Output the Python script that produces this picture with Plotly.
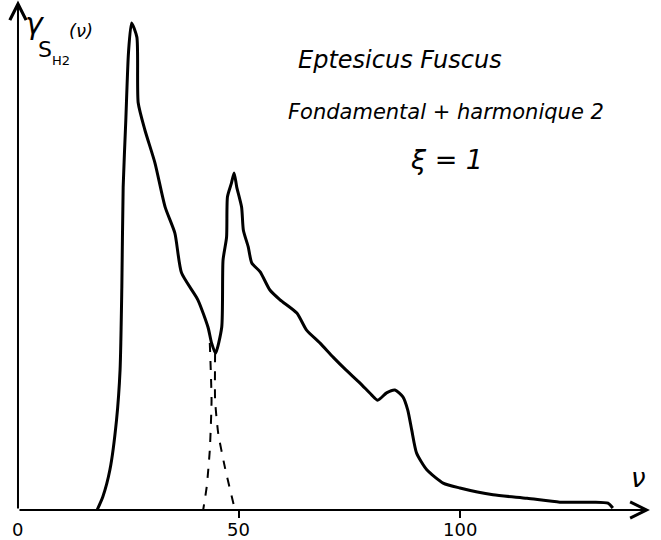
import plotly.graph_objects as go

# Total spectrum (fundamental + harmonic 2), frequency nu vs amplitude (arbitrary units)
nu_total = [17.9, 19.2, 20.8, 22.3, 23.1, 23.5, 23.8, 24.4, 25.0, 25.7, 26.9, 27.2, 28.7, 31.0,
            33.3, 35.5, 37.0, 40.7, 43.0, 43.8, 44.7, 46.1, 46.4, 47.2, 47.4, 48.3, 48.9, 49.5,
            50.6, 51.0, 52.1, 52.9, 54.8, 57.0, 59.3, 63.1, 65.3, 68.3, 71.3, 74.2, 77.4, 80.0,
            81.4, 83.4, 85.3, 87.1, 88.2, 89.1, 90.2, 92.5, 96.2, 100.0, 107.5, 115.2, 122.6,
            130.1, 133.5, 134.6]
amp_total = [0.0, 2.7, 8.2, 18.4, 28.6, 45.5, 65.9, 79.6, 93.3, 99.4, 96.5, 83.1, 77.6, 70.8,
             61.8, 56.5, 48.4, 42.9, 37.3, 34.1, 32.0, 37.3, 51.0, 55.7, 63.9, 66.7, 68.8, 65.9,
             61.8, 57.1, 53.7, 50.4, 48.6, 44.9, 42.9, 40.2, 36.7, 34.1, 31.2, 28.6, 25.9, 23.5,
             22.4, 23.9, 24.5, 23.1, 20.4, 16.3, 11.6, 8.2, 5.5, 4.5, 3.1, 2.4, 1.6,
             1.6, 1.4, 0.4]

# Dashed: tail of the fundamental
nu_fund = [43.4, 43.8, 43.4, 42.7, 41.9]
amp_fund = [34.1, 22.4, 12.2, 4.7, 0.0]

# Dashed: rising flank of harmonic 2
nu_harm = [44.6, 44.6, 45.3, 46.8, 49.1]
amp_harm = [32.0, 22.4, 15.7, 8.8, 0.0]

x_ticks = [0, 50, 100]
x_ticklabels = ["0", "50", "100"]

X_MIN, X_MAX = -4.07, 145.5
Y_MIN, Y_MAX = -6.12, 104.08
X_ARROW_END = 143.0
Y_ARROW_END = 104.0

FONT = "DejaVu Sans"

fig = go.Figure()
fig.add_trace(go.Scatter(x=nu_total, y=amp_total, mode="lines",
                         line=dict(color="black", width=3, shape="spline", smoothing=0.6),
                         hoverinfo="skip", showlegend=False))
fig.add_trace(go.Scatter(x=nu_fund, y=amp_fund, mode="lines",
                         line=dict(color="black", width=2, dash="dash", shape="spline", smoothing=0.5),
                         hoverinfo="skip", showlegend=False))
fig.add_trace(go.Scatter(x=nu_harm, y=amp_harm, mode="lines",
                         line=dict(color="black", width=2, dash="dash", shape="spline", smoothing=0.5),
                         hoverinfo="skip", showlegend=False))

annotations = []
# axes as arrows
annotations.append(dict(x=X_ARROW_END, y=0, ax=0, ay=0, xref="x", yref="y", axref="x", ayref="y",
                        showarrow=True, arrowhead=5, arrowsize=1.6, arrowwidth=2, arrowcolor="black", text=""))
annotations.append(dict(x=0, y=Y_ARROW_END, ax=0, ay=0, xref="x", yref="y", axref="x", ayref="y",
                        showarrow=True, arrowhead=5, arrowsize=1.6, arrowwidth=2, arrowcolor="black", text=""))

# tick labels below the axis
for tv, tl in zip(x_ticks, x_ticklabels):
    annotations.append(dict(text=tl, x=tv, y=1 - 529 / 540, xref="x", yref="paper",
                            xanchor="center", yanchor="middle", showarrow=False,
                            font=dict(family=FONT, size=18, color="black")))


def txt(text, px, py, size, italic=True):
    annotations.append(dict(text=text, x=px / 661, y=1 - py / 540, xref="paper", yref="paper",
                            xanchor="center", yanchor="middle", showarrow=False,
                            font=dict(family=FONT, size=size, color="black",
                                      style="italic" if italic else "normal")))


txt("Eptesicus Fuscus", 400, 60, 24)
txt("Fondamental + harmonique 2", 446, 112, 21)
txt("ξ = 1", 447, 159, 27)
txt("γ", 35, 23, 30)
txt("S", 45, 49, 22, italic=False)
txt("H2", 61, 61, 13, italic=False)
txt("(ν)", 81, 30, 18)
txt("ν", 638, 478, 26)

fig.update_layout(
    width=661, height=540,
    margin=dict(l=0, r=0, t=0, b=0),
    paper_bgcolor="white", plot_bgcolor="white",
    xaxis=dict(range=[X_MIN, X_MAX], showgrid=False, zeroline=False, showline=False,
               tickvals=x_ticks[1:], ticks="outside", ticklen=7, showticklabels=False,
               tickwidth=2, tickcolor="black", anchor="free",
               position=(0 - Y_MIN) / (Y_MAX - Y_MIN)),
    yaxis=dict(range=[Y_MIN, Y_MAX], visible=False),
    annotations=annotations,
)

fig.write_html("out.html", config={"displayModeBar": False},
               post_script="document.body.style.margin='0';document.body.style.overflow='hidden';")
